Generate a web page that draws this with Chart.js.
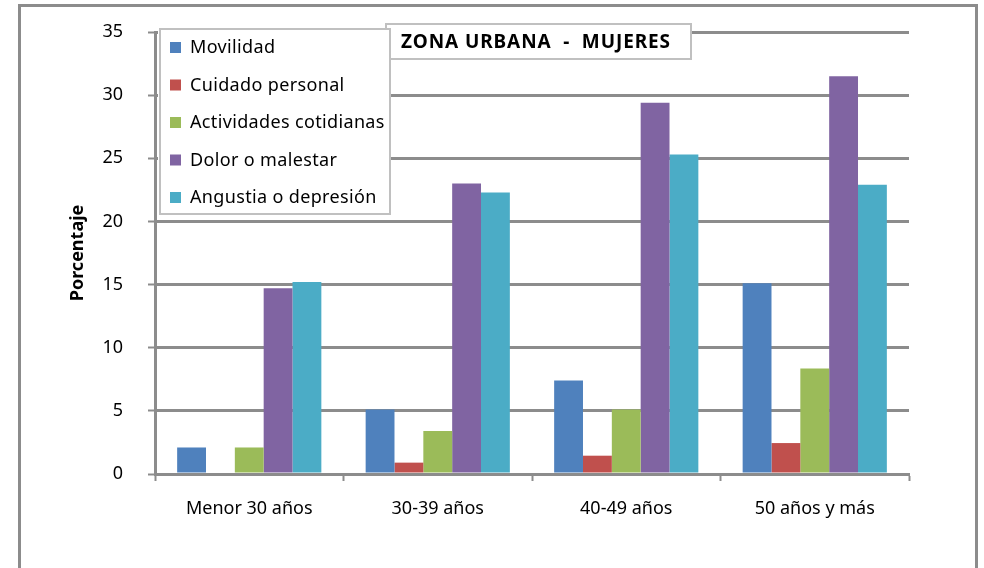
<!DOCTYPE html>
<html>
<head>
<meta charset="utf-8">
<script src="https://cdn.jsdelivr.net/npm/chart.js@4.4.0/dist/chart.umd.min.js"></script>
<style>
  html, body { margin: 0; padding: 0; background: #ffffff; }
  #wrap { width: 984px; height: 568px; position: relative; }
</style>
</head>
<body>
<div id="wrap"><canvas id="c" width="984" height="568"></canvas></div>
<script>
const categories = ['Menor 30 años', '30-39 años', '40-49 años', '50 años y más'];
const seriesNames = ['Movilidad', 'Cuidado personal', 'Actividades cotidianas', 'Dolor o malestar', 'Angustia o depresión'];
const movilidad = [2.1, 5.1, 7.4, 15.1];
const cuidadoPersonal = [0, 0.9, 1.45, 2.45];
const actividadesCotidianas = [2.1, 3.4, 5.1, 8.35];
const dolorMalestar = [14.7, 23.0, 29.4, 31.5];
const angustiaDepresion = [15.2, 22.3, 25.3, 22.9];
const seriesColors = ['#4F81BD', '#C0504D', '#9BBB59', '#8064A2', '#4BACC6'];
const yTicks = [0, 5, 10, 15, 20, 25, 30, 35];
const chartTitle = 'ZONA URBANA  -  MUJERES';
const yAxisTitle = 'Porcentaje';

const seriesValues = [movilidad, cuidadoPersonal, actividadesCotidianas, dolorMalestar, angustiaDepresion];
const FONT = '"Noto Sans", sans-serif';

const framePlugin = {
  id: 'frame',
  beforeDraw(chart) {
    const ctx = chart.ctx;
    ctx.save();
    ctx.fillStyle = '#ffffff';
    ctx.fillRect(0, 0, chart.width, chart.height);
    ctx.strokeStyle = '#8c8c8c';
    ctx.lineWidth = 3;
    ctx.beginPath();
    ctx.moveTo(19.5, 580);
    ctx.lineTo(19.5, 5.5);
    ctx.lineTo(976.5, 5.5);
    ctx.lineTo(976.5, 580);
    ctx.stroke();
    ctx.restore();
  }
};

const overlayPlugin = {
  id: 'overlay',
  afterDraw(chart) {
    const ctx = chart.ctx;
    ctx.save();
    // title box
    ctx.fillStyle = '#ffffff';
    ctx.fillRect(385, 23, 307, 36);
    ctx.strokeStyle = '#c0c0c0';
    ctx.lineWidth = 2;
    ctx.strokeRect(386, 24, 305, 35);
    ctx.fillStyle = '#000000';
    ctx.font = 'bold 19px ' + FONT;
    ctx.letterSpacing = '0.9px';
    ctx.textAlign = 'center';
    ctx.textBaseline = 'middle';
    ctx.fillText(chartTitle, 536, 43);

    // legend box
    ctx.fillStyle = '#ffffff';
    ctx.fillRect(158, 28, 233, 187);
    ctx.strokeStyle = '#c0c0c0';
    ctx.lineWidth = 2;
    ctx.strokeRect(160, 29, 230, 185);
    ctx.font = '18px ' + FONT;
    ctx.letterSpacing = '0.35px';
    ctx.textAlign = 'left';
    ctx.textBaseline = 'middle';
    chart.data.datasets.forEach((ds, i) => {
      const cy = 47 + i * 37.5;
      ctx.fillStyle = ds.backgroundColor;
      ctx.fillRect(170, cy - 5, 11, 11);
      ctx.fillStyle = '#000000';
      ctx.fillText(ds.label, 190, cy + 1);
    });
    ctx.restore();
  }
};

new Chart(document.getElementById('c'), {
  type: 'bar',
  data: {
    labels: categories,
    datasets: seriesNames.map((name, i) => ({
      label: name,
      data: seriesValues[i],
      backgroundColor: seriesColors[i],
      borderWidth: 0,
      categoryPercentage: 0.765,
      barPercentage: 1.0
    }))
  },
  options: {
    responsive: false,
    animation: false,
    layout: { padding: { left: 0, top: 32, right: 75, bottom: 0 } },
    plugins: {
      legend: { display: false },
      title: { display: false },
      tooltip: { enabled: false }
    },
    scales: {
      x: {
        afterFit(scale) { scale.height = 94; scale.paddingLeft = 0; scale.paddingRight = 0; },
        grid: {
          display: true,
          offset: true,
          drawOnChartArea: false,
          drawTicks: true,
          tickLength: 7,
          tickWidth: 2,
          tickColor: '#8c8c8c'
        },
        border: { display: true, color: '#8c8c8c', width: 3 },
        ticks: {
          color: '#000000',
          padding: 17,
          font: { family: FONT, size: 18 },
          maxRotation: 0
        }
      },
      y: {
        min: 0,
        max: 35,
        afterFit(scale) { scale.width = 155; scale.paddingTop = 0; scale.paddingBottom = 0; },
        afterBuildTicks(scale) { scale.ticks = yTicks.map(v => ({ value: v })); },
        grid: {
          color: '#8c8c8c',
          lineWidth: 3,
          tickLength: 7,
          tickColor: '#8c8c8c',
          tickWidth: 2
        },
        border: { display: true, color: '#8c8c8c', width: 3 },
        ticks: {
          color: '#000000',
          padding: 25,
          font: { family: FONT, size: 18 }
        },
        title: {
          display: true,
          text: yAxisTitle,
          color: '#000000',
          font: { family: FONT, size: 18, weight: 'bold' },
          padding: { top: 67, bottom: 0 }
        }
      }
    }
  },
  plugins: [framePlugin, overlayPlugin]
});
</script>
</body>
</html>
